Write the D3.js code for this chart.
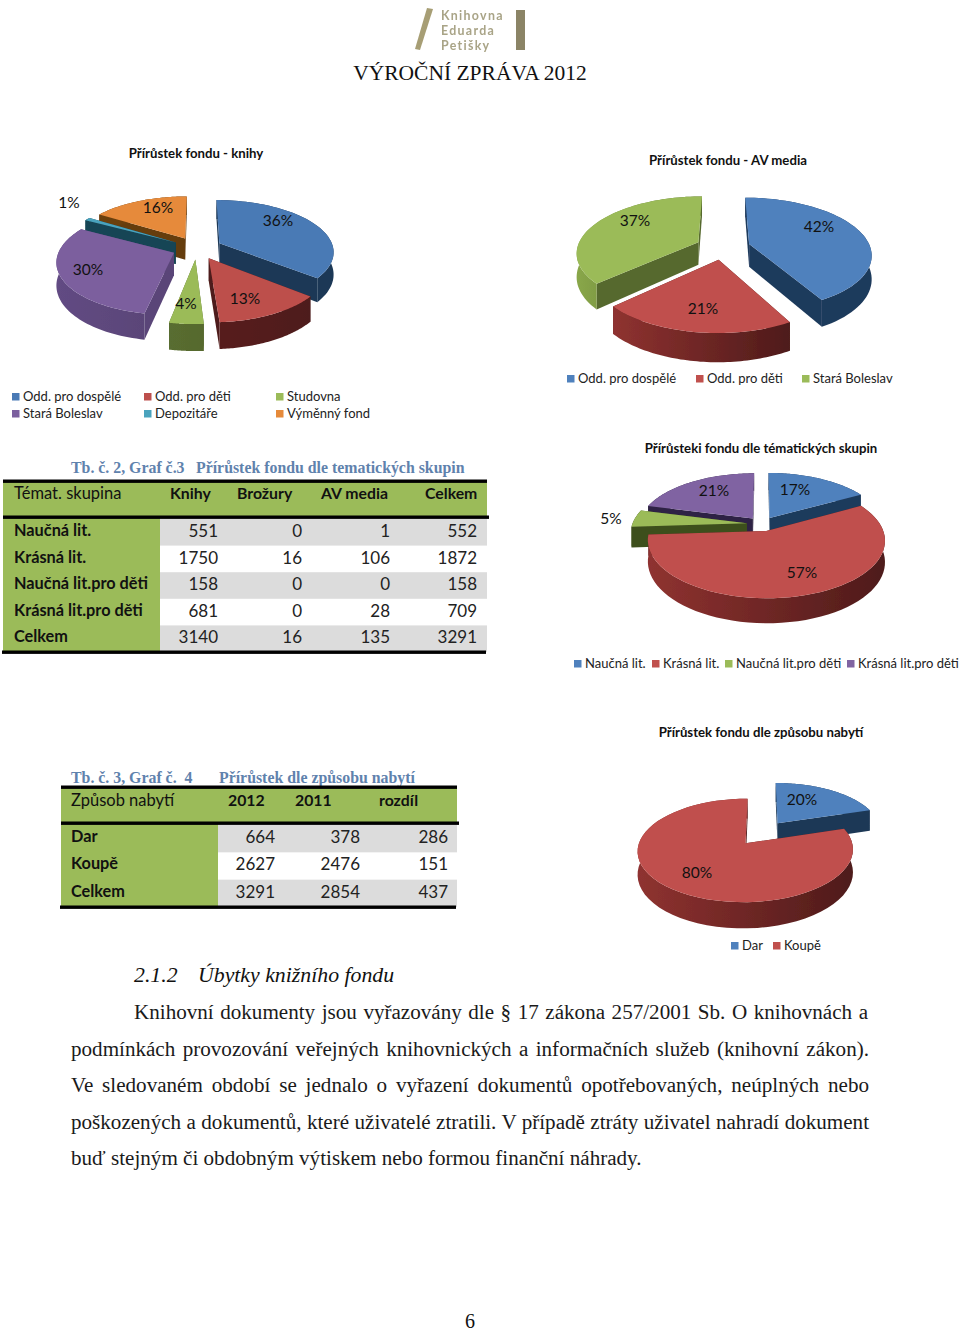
<!DOCTYPE html>
<html><head><meta charset="utf-8">
<script src="https://cdn.jsdelivr.net/npm/d3@7"></script>
<style>
html,body{margin:0;padding:0;background:#fff}
svg{display:block}
text{fill:#111}
.cal{font-family:Lato,Carlito,sans-serif}
.ser{font-family:"Liberation Serif",serif}
</style></head><body><svg id="c" width="960" height="1332"></svg>
<script>
const bookCats=["Odd. pro dospělé","Odd. pro děti","Studovna","Stará Boleslav","Depozitáře","Výměnný fond"];
const bookVals=[36,13,4,30,1,16];
const bookCols=["#4a7ab5","#bd4f4c","#9bbb59","#7b5f9e","#4aa3bd","#e68a3a"];
const bookWalls=["#1c3856","#4e1b1a","#56692e","#5a4578","#154454","#653c10"];
const bookLift=[0,.3,.1,.25,0,.2];
const avCats=["Odd. pro dospělé","Odd. pro děti","Stará Boleslav"];
const avVals=[42,21,37];
const avCols=["#4f81bd","#c0504d","#9bbb59"];
const avWalls=["#1f3a5c","#4e1b1a","#56692e"];
const avLift=[0,1.7,1.3];
const themeCats=["Naučná lit.","Krásná lit.","Naučná lit.pro děti","Krásná lit.pro děti"];
const themeVals=[17,57,5,21];
const themeCols=["#4f81bd","#c0504d","#9bbb59","#8064a2"];
const themeWalls=["#1f3a5c","#4e1b1a","#3e4f1e","#2f2444"];
const themeLift=[0,1.7,0,0];
const wayCats=["Dar","Koupě"];
const wayVals=[664,2627];
const wayCols=["#4f81bd","#c0504d"];
const wayWalls=["#1c3856","#4e1b1a"];
const wayLift=[0,1.7];

const t1Head=["Témat. skupina","Knihy","Brožury","AV media","Celkem"];
const t1Rows=["Naučná lit.","Krásná lit.","Naučná lit.pro děti","Krásná lit.pro děti","Celkem"];
const t1Knihy=[551,1750,158,681,3140];
const t1Broz=[0,16,0,0,16];
const t1Av=[1,106,0,28,135];
const t1Sum=[552,1872,158,709,3291];
const t2Head=["Způsob nabytí","2012","2011","rozdíl"];
const t2Rows=["Dar","Koupě","Celkem"];
const t2a=[664,2627,3291];
const t2b=[378,2476,2854];
const t2c=[286,151,437];
const bodyLines=[
 "Knihovní dokumenty jsou vyřazovány dle § 17 zákona 257/2001 Sb. O knihovnách a",
 "podmínkách provozování veřejných knihovnických a informačních služeb (knihovní zákon).",
 "Ve sledovaném období se jednalo o vyřazení dokumentů opotřebovaných, neúplných nebo",
 "poškozených a dokumentů, které uživatelé ztratili. V případě ztráty uživatel nahradí dokument",
 "buď stejným či obdobným výtiskem nebo formou finanční náhrady."];

const svg=d3.select("#c");
const defs=svg.append("defs");
let gid=0;
const blur=defs.append("filter").attr("id","soft").attr("x","-5%").attr("y","-5%").attr("width","110%").attr("height","110%");
blur.append("feGaussianBlur").attr("stdDeviation",0.35);

function pie3d(o){
  const total=d3.sum(o.vals);
  const arcs=d3.pie().sort(null)(o.vals);
  const g=svg.append("g").attr("filter","url(#soft)");
  const scaleU=d3.scaleLinear().domain([-1,1]).range([-o.rx,o.rx]);
  const scaleV=d3.scaleLinear().domain([-1,1]).range([-o.ry,o.ry]);
  const proj=(u,v,dz)=>{const w=1/(1-o.p*v);return [o.cx+scaleU(u)*w,o.cy+scaleV(v)*w+(dz||0)*w];};
  const line=d3.line();
  const items=arcs.map((a,i)=>{
    const m=(a.startAngle+a.endAngle)/2;
    return {i,a0:a.startAngle,a1:a.endAngle,m,eu:o.e*Math.sin(m),ev:-o.e*Math.cos(m)};
  }).sort((x,y)=>x.ev-y.ev);
  if(o.order) items.sort((x,y)=>o.order.indexOf(x.i)-o.order.indexOf(y.i));
  items.forEach(s=>{
    const pt=(a,r,dz)=>proj(s.eu+r*Math.sin(a),s.ev-r*Math.cos(a),dz);
    const angs=d3.range(0,61).map(k=>s.a0+(s.a1-s.a0)*k/60);
    const wall=o.walls[s.i];
    const pts=angs.map(a=>pt(a,1,0));
    const x0=d3.min(pts,p=>p[0]),x1=d3.max(pts,p=>p[0]);
    const id="w"+(gid++);
    const gr=defs.append("linearGradient").attr("id",id).attr("gradientUnits","userSpaceOnUse")
      .attr("x1",x0).attr("x2",x1).attr("y1",0).attr("y2",0);
    const c0=d3.rgb(wall);
    gr.append("stop").attr("offset",0).attr("stop-color",c0.brighter(o.lift[s.i]));
    gr.append("stop").attr("offset",1).attr("stop-color",c0);
    [s.a0,s.a1].forEach(a=>{
      g.append("path").attr("fill",wall).attr("d",line([pt(a,0,0),pt(a,1,0),pt(a,1,o.d),pt(a,0,o.d)])+"Z");
    });
    const outer=angs.map(a=>pt(a,1,0)).concat(angs.slice().reverse().map(a=>pt(a,1,o.d)));
    g.append("path").attr("fill",`url(#${id})`).attr("d",line(outer)+"Z");
    const top=[pt(0,0,0)].concat(angs.map(a=>pt(a,1,0)));
    g.append("path").attr("fill",o.cols[s.i]).attr("d",line(top)+"Z");
  });
  const fmt=d3.format(".0%");
  o.labels.forEach((l,i)=>{
    svg.append("text").attr("class","cal").attr("x",l[0]).attr("y",l[1]).attr("text-anchor","middle")
      .attr("font-size",15.5).text(fmt(o.vals[i]/total));
  });
  return g;
}
function legend(items){
  items.forEach(it=>{
    svg.append("rect").attr("x",it.x).attr("y",it.y-8).attr("width",7.5).attr("height",7.5).attr("fill",it.c);
    svg.append("text").attr("class","cal").attr("x",it.x+11).attr("y",it.y).attr("font-size",13).attr("style","fill:#222").text(it.t);
  });
}
function title(t,x,y){
  svg.append("text").attr("class","cal").attr("x",x).attr("y",y).attr("text-anchor","middle")
    .attr("font-size",13.2).attr("font-weight",700).text(t);
}

const logo=svg.append("g").attr("filter","url(#soft)");
logo.append("path").attr("d",d3.line()([[427,8],[433,9],[420,50],[415,49]])+"Z").attr("fill","#a79e74");
logo.append("path").attr("d",d3.line()([[516,10],[525,10],[525,50],[516,50]])+"Z").attr("fill","#8b8466");
["Knihovna","Eduarda","Petišky"].forEach((t,i)=>{
  logo.append("text").attr("class","cal").attr("x",441).attr("y",20+i*15).attr("font-size",12.4).attr("font-weight",700)
    .attr("letter-spacing",1.3).attr("style","fill:#a9a487").text(t);
});
svg.append("text").attr("class","ser").attr("x",470).attr("y",80).attr("text-anchor","middle").attr("font-size",21.5).text("VÝROČNÍ ZPRÁVA 2012");

title("Přírůstek fondu - knihy",196,158);
pie3d({vals:bookVals,cols:bookCols,walls:bookWalls,lift:bookLift,cx:197,cy:248,rx:114,ry:51,p:.15,e:.22,d:22,
  labels:[[278,226],[245,304],[186,309],[88,275],[69,208],[158,213]]});
legend(bookCats.map((t,i)=>({t,c:bookCols[i],x:[12,144,276][i%3],y:i<3?401:418})));

title("Přírůstek fondu - AV media",728,165);
pie3d({vals:avVals,cols:avCols,walls:avWalls,lift:avLift,cx:723,cy:247,rx:121,ry:55.3,p:.175,e:.225,d:23,
  labels:[[819,232],[703,314],[635,226]]});
legend(avCats.map((t,i)=>({t,c:avCols[i],x:[567,696,802][i],y:383})));

title("Přírůsteki fondu dle tématických skupin",761,453);
pie3d({vals:themeVals,cols:themeCols,walls:themeWalls,lift:themeLift,cx:762,cy:524,rx:114.6,ry:54,p:.16,e:.132,d:20.5,order:[3,0,2,1],
  labels:[[795,495],[802,578],[611,524],[714,496]]});
legend(themeCats.map((t,i)=>({t,c:themeCols[i],x:[574,652,725,847][i],y:668})));

title("Přírůstek fondu dle způsobu nabytí",761,737);
pie3d({vals:wayVals,cols:wayCols,walls:wayWalls,lift:wayLift,cx:762,cy:833,rx:103.7,ry:48,p:.133,e:.26,d:22,
  labels:[[802,805],[697,878]]});
legend(wayCats.map((t,i)=>({t,c:wayCols[i],x:[731,773][i],y:950})));

function tableTitle(parts){
  parts.forEach(p=>svg.append("text").attr("class","ser").attr("x",p[0]).attr("y",p[1]).attr("font-size",15.85)
    .attr("font-weight",700).attr("style","fill:#5f82ad;white-space:pre").text(p[2]));
}
function table(o){
  const y=d3.scaleBand().domain(o.rows).range([o.rowTop,o.rowBot]);
  const g=svg.append("g");
  g.append("rect").attr("x",o.x0).attr("y",o.top).attr("width",o.x1-o.x0).attr("height",o.headBot-o.top).attr("fill","#9bbb59");
  g.append("rect").attr("x",o.x0).attr("y",o.headBot).attr("width",o.split-o.x0).attr("height",o.rowBot-o.headBot).attr("fill","#9bbb59");
  o.rows.forEach((r,i)=>{
    if(i%2==0) g.append("rect").attr("x",o.split).attr("y",y(r)).attr("width",o.x1-o.split).attr("height",y.bandwidth()).attr("fill","#dcdcdc");
    g.append("text").attr("class","cal").attr("x",o.labelX).attr("y",y(r)+17).attr("font-size",16.3).attr("font-weight",700).text(r);
    o.cols.forEach((c,j)=>{
      g.append("text").attr("class","cal").attr("x",o.colX[j]).attr("y",y(r)+18).attr("text-anchor","end").attr("font-size",17).attr("style","fill:#222").text(c[i]);
    });
  });
  [o.top,o.headBot,o.rowBot].forEach((ly,i)=>{
    g.append("rect").attr("x",o.x0-(i==2?1:0)).attr("y",ly-1.5).attr("width",o.x1-o.x0+(i==1?2:0)).attr("height",3.4).attr("fill","#000");
  });
  o.head.forEach((h,j)=>{
    g.append("text").attr("class","cal").attr("x",o.headX[j]).attr("y",o.headY).attr("font-size",j==0?16.5:15.8)
      .attr("font-weight",j==0?400:700).text(h);
  });
}
tableTitle([[71,472.5,"Tb. č. 2, Graf č.3"],[196,472.5,"Přírůstek fondu dle tematických skupin"]]);
table({x0:3,x1:487,split:160,top:481,headBot:517,rowTop:519,rowBot:652,rows:t1Rows,cols:[t1Knihy,t1Broz,t1Av,t1Sum],
  colX:[218,302,390,477],head:t1Head,headX:[14,170,237,321,425],headY:499,labelX:14});
tableTitle([[71,783,"Tb. č. 3, Graf č.  4"],[219,783,"Přírůstek dle způsobu nabytí"]]);
table({x0:61,x1:457,split:218,top:787,headBot:823,rowTop:825,rowBot:907,rows:t2Rows,cols:[t2a,t2b,t2c],
  colX:[275,360,448],head:t2Head,headX:[71,228,295,379],headY:806,labelX:71});

svg.append("text").attr("class","ser").attr("x",134).attr("y",982).attr("font-size",21.8).attr("font-style","italic").text("2.1.2");
svg.append("text").attr("class","ser").attr("x",198).attr("y",982).attr("font-size",21.8).attr("font-style","italic").text("Úbytky knižního fondu");
const bodyLeft=[134,71,71,71,71], bodyRight=[868,869,869,869,null];
bodyLines.forEach((t,i)=>{
  const el=svg.append("text").attr("class","ser").attr("x",bodyLeft[i]).attr("y",1019+i*36.5).attr("font-size",21.1).attr("style","fill:#1a1a1a").text(t);
  if(bodyRight[i]){
    const len=el.node().getComputedTextLength();
    const gaps=t.split(" ").length-1;
    el.attr("word-spacing",(bodyRight[i]-bodyLeft[i]-len)/gaps);
  }
});
svg.append("text").attr("class","ser").attr("x",470).attr("y",1327.5).attr("text-anchor","middle").attr("font-size",20).text("6");
</script></body></html>
